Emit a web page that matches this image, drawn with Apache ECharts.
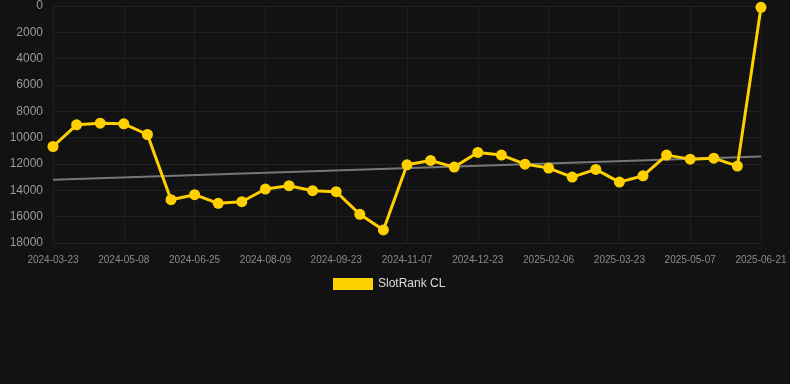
<!DOCTYPE html>
<html>
<head>
<meta charset="utf-8">
<script src="https://cdn.jsdelivr.net/npm/echarts@6/dist/echarts.min.js"></script>
<style>
html,body{margin:0;padding:0;background:#121212;}
#chart{width:790px;height:384px;}
</style>
</head>
<body>
<div id="chart"></div>
<script>
var categories = [
  '2024-03-23','2024-04-07','2024-04-23','2024-05-08','2024-05-24','2024-06-09',
  '2024-06-25','2024-07-10','2024-07-25','2024-08-09','2024-08-24','2024-09-08',
  '2024-09-23','2024-10-08','2024-10-23','2024-11-07','2024-11-22','2024-12-08',
  '2024-12-23','2025-01-07','2025-01-22','2025-02-06','2025-02-21','2025-03-08',
  '2025-03-23','2025-04-07','2025-04-22','2025-05-07','2025-05-22','2025-06-06',
  '2025-06-21'
];
var rankValues = [
  10670, 9025, 8900, 8950, 9760, 14710, 14330, 14990, 14865, 13900, 13650, 14030,
  14105, 15825, 17010, 12060, 11730, 12235, 11120, 11325, 12010, 12310, 12995,
  12410, 13375, 12895, 11325, 11630, 11555, 12160, 100
];
var trendEnds = [13200, 11430];
var seriesName = 'SlotRank CL';

var trendData = categories.map(function(c, i){
  if (i === 0) return trendEnds[0];
  if (i === categories.length - 1) return trendEnds[1];
  return null;
});

var chart = echarts.init(document.getElementById('chart'), null, {renderer:'canvas'});
chart.setOption({
  backgroundColor: '#121212',
  animation: false,
  grid: {left: 53, right: 29, top: 6, bottom: 141, containLabel: false},
  legend: {
    data: [seriesName],
    top: 278,
    left: 333,
    padding: 0,
    itemWidth: 40,
    itemHeight: 12,
    itemGap: 8,
    icon: 'rect',
    textStyle: {color: '#dddddd', fontSize: 12, fontFamily: 'Arial, Liberation Sans, sans-serif'}
  },
  xAxis: {
    type: 'category',
    data: categories,
    boundaryGap: false,
    axisLine: {show: false},
    axisTick: {show: false},
    axisLabel: {
      interval: 2,
      color: '#8a8a8a',
      fontSize: 10,
      margin: 12,
      fontFamily: 'Arial, Liberation Sans, sans-serif'
    },
    splitLine: {show: true, interval: 2, lineStyle: {color: '#1f1f1f', width: 1}}
  },
  yAxis: {
    type: 'value',
    inverse: true,
    min: 0,
    max: 18000,
    interval: 2000,
    axisLine: {show: false},
    axisTick: {show: false},
    axisLabel: {
      color: '#9a9a9a', fontSize: 12, margin: 10,
      fontFamily: 'Arial, Liberation Sans, sans-serif',
      formatter: function(v){ return String(v); }
    },
    splitLine: {show: true, lineStyle: {color: '#222222', width: 1}}
  },
  series: [
    {
      name: 'trend',
      type: 'line',
      data: trendData,
      connectNulls: true,
      showSymbol: false,
      symbol: 'none',
      lineStyle: {color: '#777777', width: 2},
      z: 1,
      silent: true
    },
    {
      name: seriesName,
      type: 'line',
      data: rankValues,
      symbol: 'circle',
      symbolSize: 11,
      itemStyle: {color: '#ffd000'},
      lineStyle: {color: '#ffd000', width: 3},
      z: 3
    }
  ]
});
</script>
</body>
</html>
